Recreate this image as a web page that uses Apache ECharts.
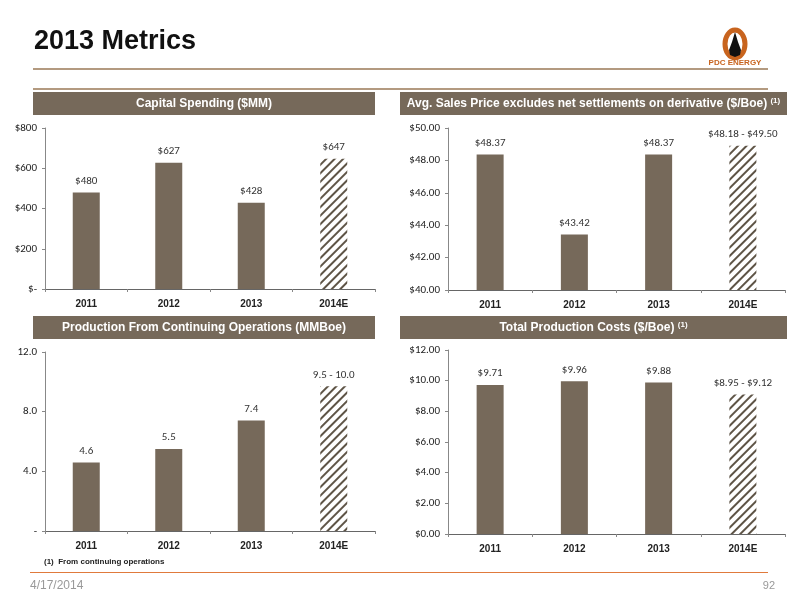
<!DOCTYPE html>
<html><head><meta charset="utf-8">
<script src="https://cdn.jsdelivr.net/npm/echarts@6/dist/echarts.min.js"></script>
<style>html,body{margin:0;padding:0;background:#fff}#c{width:800px;height:600px}</style>
</head><body><div id="c"></div>
<script>
const categories = ['2011','2012','2013','2014E'];
const capex = [480, 627, 428, 647];
const capexLabels = ['$480','$627','$428','$647'];
const price = [48.37, 43.42, 48.37, 48.9];
const priceLabels = ['$48.37','$43.42','$48.37','$48.18 - $49.50'];
const production = [4.6, 5.5, 7.4, 9.7];
const productionLabels = ['4.6','5.5','7.4','9.5 - 10.0'];
const costs = [9.71, 9.96, 9.88, 9.1];
const costLabels = ['$9.71','$9.96','$9.88','$8.95 - $9.12'];

const brown = '#76695a';
const font = 'Liberation Sans Narrow, Liberation Sans, sans-serif';
const hatch = {color:'#ffffff', decal:{symbol:'rect', symbolSize:1, dashArrayX:[1,0], dashArrayY:[2,4], rotation:-Math.PI/4, color:'#5e5446', backgroundColor:'#ffffff'}};
function bars(vals, labels, idx){
  return {type:'bar', xAxisIndex:idx, yAxisIndex:idx, barWidth:27,
    data: vals.map((v,i)=>({value:v, itemStyle: i===3 ? hatch : {color:brown}})),
    label:{show:true, position:'top', distance:6, color:'#333', fontSize:11, fontFamily:'Carlito, DejaVu Sans Condensed, Liberation Sans, sans-serif',
      formatter:p=>labels[p.dataIndex]}};
}
const grids = [
  {left:45, top:128, width:330, height:161},
  {left:448, top:128, width:337, height:162},
  {left:45, top:352, width:330, height:179},
  {left:448, top:350, width:337, height:184}
];
function yAx(idx,min,max,interval,fmt){
  return {type:'value', gridIndex:idx, min, max, interval, splitLine:{show:false},
    axisLine:{show:true, lineStyle:{color:'#888'}}, axisTick:{show:true, length:3, lineStyle:{color:'#888'}},
    axisLabel:{fontSize:11, color:'#222', formatter:fmt, margin:8, fontFamily:'Carlito, DejaVu Sans Condensed, Liberation Sans, sans-serif'}};
}
function xAx(idx){
  return {type:'category', gridIndex:idx, data:categories, axisLine:{lineStyle:{color:'#666'}},
    axisTick:{show:true, length:3, lineStyle:{color:'#888'}}, axisLabel:{fontSize:10, color:'#222', fontWeight:'bold', margin:10}};
}
const header = (x,y,w,text,sup) => ({type:'group', children:[
  {type:'rect', shape:{x,y,width:w,height:23}, style:{fill:brown}},
  {type:'text', x:x+w/2, y:y+12, style:{text:text+(sup?' {s|(1)}':''), rich:{s:{fill:'#fff', font:'bold 8px '+font, verticalAlign:'top', padding:[0,0,6,0]}}, fill:'#fff', font:'bold 12px '+font, textAlign:'center', textVerticalAlign:'middle'}}
]});
const chart = echarts.init(document.getElementById('c'));
chart.setOption({
  animation:false,
  grid: grids,
  xAxis: [0,1,2,3].map(i=>xAx(i)),
  yAxis: [
    yAx(0,0,800,200,v=>v===0?'$-':'$'+v),
    yAx(1,40,50,2,v=>'$'+v.toFixed(2)),
    yAx(2,0,12,4,v=>v===0?'-':v.toFixed(1)),
    yAx(3,0,12,2,v=>'$'+v.toFixed(2))
  ],
  series: [bars(capex,capexLabels,0), bars(price,priceLabels,1), bars(production,productionLabels,2), bars(costs,costLabels,3)],
  graphic: [
    {type:'text', x:34, y:28, style:{text:'2013 Metrics', fill:'#111', font:'bold 27px '+font}},
    {type:'rect', shape:{x:33,y:68,width:735,height:2}, style:{fill:'#b39a80'}},
    {type:'rect', shape:{x:33,y:88,width:735,height:2}, style:{fill:'#b39a80'}},
    header(33,92,342,'Capital Spending ($MM)',false),
    header(400,92,387,'Avg. Sales Price excludes net settlements on derivative ($/Boe)',true),
    header(33,316,342,'Production From Continuing Operations (MMBoe)',false),
    header(400,316,387,'Total Production Costs ($/Boe)',true),
    {type:'ellipse', shape:{cx:735,cy:44,rx:10,ry:14}, style:{fill:'none', stroke:'#c8641e', lineWidth:5}},
    {type:'polygon', shape:{points:[[735,32],[738,42],[741,50],[740,55],[735,57],[730,55],[729,50],[732,42]]}, style:{fill:'#111'}},
    {type:'text', x:735, y:67, style:{text:'PDC ENERGY', fill:'#c8641e', font:'bold 8px '+font, textAlign:'center', textVerticalAlign:'bottom'}},
    {type:'text', x:44, y:558, style:{text:'(1)  From continuing operations', fill:'#222', font:'bold 8px '+font}},
    {type:'rect', shape:{x:30,y:572,width:738,height:1}, style:{fill:'#e07a3c'}},
    {type:'text', x:30, y:580, style:{text:'4/17/2014', fill:'#999', font:'12px Liberation Sans, sans-serif'}},
    {type:'text', x:775, y:580, style:{text:'92', fill:'#999', font:'11px Liberation Sans, sans-serif', textAlign:'right'}}
  ]
});
</script></body></html>
